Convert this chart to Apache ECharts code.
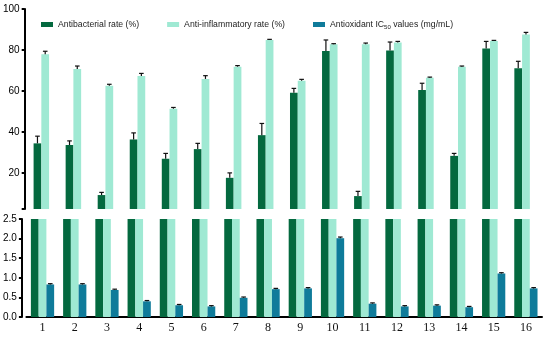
<!DOCTYPE html>
<html>
<head>
<meta charset="utf-8">
<script src="https://cdn.jsdelivr.net/npm/echarts@6/dist/echarts.min.js"></script>
<style>html,body{margin:0;padding:0;background:#fff}#chart{width:550px;height:339px}</style>
</head>
<body>
<div id="chart"></div>
<script>
const CATEGORIES = ['1','2','3','4','5','6','7','8','9','10','11','12','13','14','15','16'];
const ANTIBACTERIAL = [34.5, 33.7, 9.3, 36.4, 27.0, 31.7, 17.7, 38.5, 59.2, 79.5, 8.8, 79.8, 60.5, 28.4, 80.8, 71.1];
const ANTIBACTERIAL_ERR = [3.5, 2.0, 1.3, 3.2, 2.6, 2.8, 2.4, 5.7, 2.1, 5.4, 2.3, 4.1, 3.3, 1.2, 3.4, 3.4];
const ANTIINFLAM = [77.9, 70.7, 62.6, 67.3, 51.4, 65.9, 71.9, 84.9, 65.0, 82.8, 82.8, 83.7, 66.5, 71.9, 84.4, 87.6];
const ANTIINFLAM_ERR = [1.5, 1.5, 0.7, 1.3, 0.6, 1.6, 0.5, 0.3, 0.7, 0.3, 0.6, 0.5, 0.3, 0.3, 0.3, 1.0];
const ANTIOX = [0.83, 0.83, 0.69, 0.40, 0.30, 0.27, 0.49, 0.71, 0.73, 2.01, 0.34, 0.27, 0.29, 0.25, 1.11, 0.73];
const ANTIOX_ERR = [0.02, 0.02, 0.02, 0.02, 0.02, 0.02, 0.02, 0.02, 0.02, 0.03, 0.02, 0.02, 0.02, 0.02, 0.02, 0.02];
const TOP_TICKS = [20, 40, 60, 80, 100];

const NAME_AB = 'Antibacterial rate (%)';
const NAME_AI = 'Anti-inflammatory rate (%)';
const NAME_AO = 'Antioxidant IC50 values (mg/mL)';

const C_DARK = '#04693f', C_LIGHT = '#9fe9d3', C_TEAL = '#0f7b9a';
const BAR_W = 7.75;

function errSeries(name, grid, vals, errs, slot) {
  return {
    type: 'custom', name: name + ' err', xAxisIndex: grid, yAxisIndex: grid, z: 5,
    data: vals.map((v, i) => [i, v, errs[i]]),
    renderItem: function (params, api) {
      const i = api.value(0), v = api.value(1), e = api.value(2);
      const b = api.coord([i, v]);
      const t = api.coord([i, v + e]);
      const x = b[0] + slot * BAR_W;
      const st = { stroke: '#111', lineWidth: 1.2 };
      return { type: 'group', children: [
        { type: 'line', shape: { x1: x, y1: b[1], x2: x, y2: t[1] }, style: st },
        { type: 'line', shape: { x1: x - 2.3, y1: t[1], x2: x + 2.3, y2: t[1] }, style: st }
      ]};
    }
  };
}

const chart = echarts.init(document.getElementById('chart'), null, { renderer: 'canvas' });
const axisLineStyle = { color: '#000', width: 2 };
const yLabel = { color: '#000', fontSize: 10, fontFamily: 'Liberation Sans, Arial, sans-serif', margin: 5 };

chart.setOption({
  animation: false,
  backgroundColor: '#fff',
  legend: {
    left: 36, top: 15, itemWidth: 12, itemHeight: 5, itemGap: 28, icon: 'rect',
    data: [NAME_AB, NAME_AI, NAME_AO],
    formatter: n => n === NAME_AO ? 'Antioxidant IC{sub|50} values (mg/mL)' : n,
    textStyle: { fontSize: 8.7, color: '#222', fontFamily: 'Liberation Sans, Arial, sans-serif', padding: [0, 0, 0, 0],
      rich: { sub: { fontSize: 6, color: '#222', fontFamily: 'Liberation Sans, Arial, sans-serif', padding: [5, 0, 0, 0] } } }
  },
  grid: [
    { left: 25.5, right: 8, top: 9, height: 200 },
    { left: 25.5, right: 8, top: 219, height: 98 }
  ],
  xAxis: [
    { gridIndex: 0, type: 'category', data: CATEGORIES, show: false },
    { gridIndex: 1, type: 'category', data: CATEGORIES,
      axisLine: { show: true, lineStyle: axisLineStyle }, axisTick: { show: false },
      axisLabel: { color: '#111', fontSize: 12, fontFamily: 'Liberation Serif, Times New Roman, serif', margin: 5 } }
  ],
  yAxis: [
    { gridIndex: 0, type: 'value', min: 2.5, max: 100, offset: 4.5,
      axisLine: { show: true, lineStyle: axisLineStyle },
      axisTick: { show: true, length: 3, lineStyle: { color: '#000', width: 2 }, customValues: [2.5].concat(TOP_TICKS) },
      axisLabel: Object.assign({ customValues: TOP_TICKS }, yLabel),
      splitLine: { show: false } },
    { gridIndex: 1, type: 'value', min: 0, max: 2.5, interval: 0.5, offset: 4.5,
      axisLine: { show: true, lineStyle: axisLineStyle },
      axisTick: { show: true, length: 3, lineStyle: { color: '#000', width: 2 } },
      axisLabel: Object.assign({ formatter: v => v.toFixed(1) }, yLabel),
      splitLine: { show: false } }
  ],
  series: [
    { type: 'bar', name: NAME_AB, xAxisIndex: 0, yAxisIndex: 0, data: ANTIBACTERIAL, barWidth: BAR_W, barGap: '0%', itemStyle: { color: C_DARK }, clip: true },
    { type: 'bar', name: NAME_AI, xAxisIndex: 0, yAxisIndex: 0, data: ANTIINFLAM, barWidth: BAR_W, barGap: '0%', itemStyle: { color: C_LIGHT }, clip: true },
    { type: 'bar', name: NAME_AO, xAxisIndex: 0, yAxisIndex: 0, data: CATEGORIES.map(() => '-'), barWidth: BAR_W, barGap: '0%', itemStyle: { color: C_TEAL }, clip: true },
    { type: 'bar', name: NAME_AB, xAxisIndex: 1, yAxisIndex: 1, data: ANTIBACTERIAL, barWidth: BAR_W, barGap: '0%', itemStyle: { color: C_DARK }, clip: true },
    { type: 'bar', name: NAME_AI, xAxisIndex: 1, yAxisIndex: 1, data: ANTIINFLAM, barWidth: BAR_W, barGap: '0%', itemStyle: { color: C_LIGHT }, clip: true },
    { type: 'bar', name: NAME_AO, xAxisIndex: 1, yAxisIndex: 1, data: ANTIOX, barWidth: BAR_W, barGap: '0%', itemStyle: { color: C_TEAL }, clip: true },
    errSeries(NAME_AB, 0, ANTIBACTERIAL, ANTIBACTERIAL_ERR, -1),
    errSeries(NAME_AI, 0, ANTIINFLAM, ANTIINFLAM_ERR, 0),
    errSeries(NAME_AO, 1, ANTIOX, ANTIOX_ERR, 1)
  ]
});
</script>
</body>
</html>
